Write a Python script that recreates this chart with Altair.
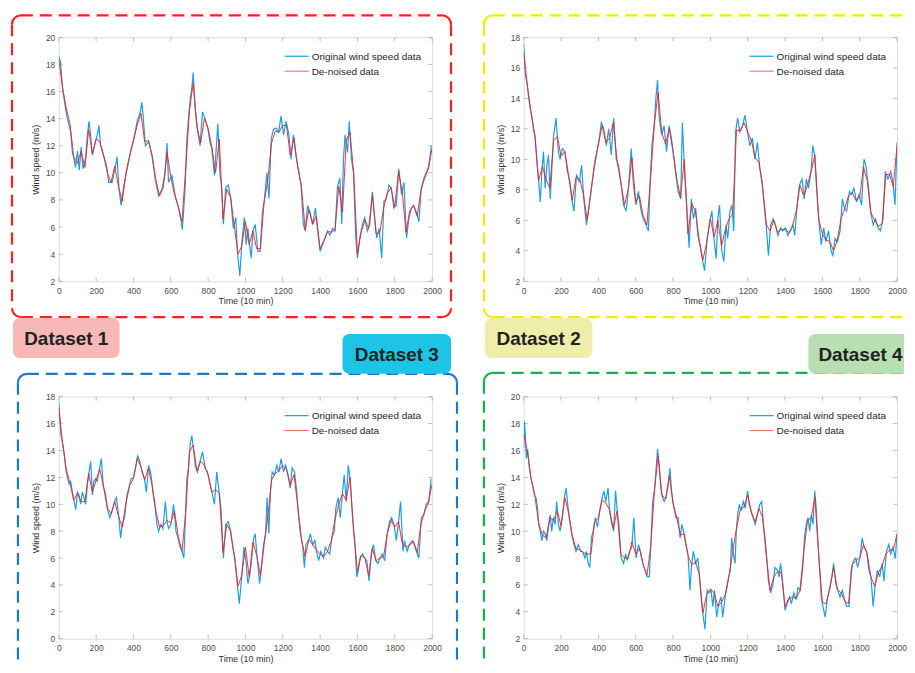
import altair as alt
import pandas as pd

FONT = "Liberation Sans"
X_TICKS = list(range(0, 2001, 200))
T_DEN = list(range(0, 2001, 20))

# ---------------- Dataset 1 ----------------
D1_ORIG = [(0,18.6),(9,18.2),(20,16.3),(28,15.5),(37,14.7),(46,14.0),(55,13.5),(64,13.0),(73,11.5),(82,11.0),
(90,10.4),(100,11.6),(110,10.2),(120,11.9),(130,10.3),(145,11.2),(153,12.8),(162,13.8),(170,12.9),(180,11.3),
(193,12.1),(206,12.8),(215,13.5),(224,12.0),(242,11.2),(255,10.6),(268,9.3),(286,9.3),(304,10.5),(312,11.2),
(322,8.9),(334,7.6),(348,9.0),(366,10.3),(384,11.5),(402,12.5),(420,13.8),(437,14.5),(445,15.2),(450,14.5),
(464,12.0),(482,12.3),(500,11.3),(517,9.5),(535,8.3),(553,8.8),(570,10.0),(580,12.2),(588,9.3),(606,9.8),
(624,8.3),(642,7.4),(656,6.4),(662,5.8),(668,7.0),(677,9.0),(686,12.5),(695,14.0),(704,15.4),(716,16.7),
(720,17.4),(731,14.7),(745,13.0),(757,12.0),(770,14.5),(784,14.0),(798,13.3),(811,12.2),(820,11.8),(834,9.8),
(852,13.6),(864,9.8),(873,8.9),(882,6.2),(894,8.9),(908,9.1),(922,8.1),(935,5.9),(948,6.7),(958,4.0),
(970,2.4),(980,4.7),(994,6.7),(1004,4.7),(1013,5.9),(1022,4.7),(1031,3.7),(1040,5.7),(1052,6.2),(1067,4.2),
(1079,4.2),(1090,7.0),(1102,8.1),(1115,10.0),(1126,8.1),(1138,12.5),(1150,13.2),(1164,13.3),(1178,13.0),(1191,14.2),
(1204,12.8),(1218,13.8),(1233,12.8),(1244,11.0),(1257,12.8),(1271,11.2),(1284,10.3),(1298,9.1),(1310,6.2),(1321,5.7),
(1333,7.6),(1346,7.1),(1360,6.2),(1375,7.4),(1387,5.7),(1400,4.2),(1413,4.7),(1427,5.2),(1440,5.7),(1452,5.4),
(1467,5.9),(1480,5.7),(1493,9.0),(1506,9.6),(1516,6.2),(1525,11.0),(1534,12.8),(1547,11.5),(1556,13.8),(1568,11.0),
(1579,10.0),(1591,5.2),(1600,3.7),(1612,5.2),(1627,6.2),(1639,6.7),(1653,5.7),(1666,6.2),(1680,8.6),(1692,6.7),
(1703,5.2),(1716,5.9),(1730,3.7),(1742,7.9),(1755,8.1),(1769,9.1),(1781,8.9),(1795,7.4),(1808,7.6),(1822,10.3),
(1836,8.4),(1849,9.3),(1863,5.2),(1876,6.7),(1890,7.4),(1902,7.6),(1915,7.1),(1929,6.4),(1942,8.9),(1956,9.6),
(1968,10.0),(1982,10.5),(1996,12.0)]
D1_DEN = [18.4, 16.3, 14.8, 13.6, 11.2, 10.7, 11.6, 10.4, 13.2, 11.4,
          12.5, 12.3, 11.3, 10.0, 9.3, 10.5, 9.0, 7.9, 10.0, 11.3,
          12.4, 13.5, 14.4, 12.3, 12.4, 11.2, 9.5, 8.3, 8.9, 11.5,
          9.7, 8.4, 7.5, 6.4, 10.3, 14.6, 16.6, 13.4, 12.2, 14.0,
          13.3, 11.9, 10.0, 12.5, 6.6, 8.8, 8.2, 6.1, 4.0, 4.6,
          6.4, 4.7, 5.7, 4.4, 4.4, 7.8, 9.5, 12.2, 13.1, 13.0,
          13.5, 13.5, 11.3, 12.6, 10.4, 9.0, 5.8, 7.3, 6.2, 6.8,
          4.4, 5.0, 5.7, 5.6, 5.8, 9.0, 7.1, 12.4, 13.0, 10.0,
          4.0, 5.6, 6.5, 5.9, 8.4, 5.5, 5.6, 7.4, 8.5, 8.9,
          7.5, 10.1, 8.6, 5.6, 7.2, 7.6, 6.8, 8.7, 9.6, 10.3,
          11.8]

# ---------------- Dataset 2 ----------------
D2_ORIG = [(0,17.6),(9,15.5),(18,15.0),(27,14.0),(35,13.3),(44,12.8),(53,12.0),(62,11.4),(71,9.8),(80,8.5),
(89,7.2),(97,9.2),(106,10.5),(115,8.1),(124,9.6),(133,10.3),(142,7.4),(150,9.2),(159,11.4),(173,12.7),
(186,10.5),(195,10.0),(207,10.7),(221,10.5),(234,9.2),(248,8.5),(257,7.4),(269,6.6),(283,9.0),(298,8.5),
(310,9.6),(322,7.4),(336,5.7),(349,6.8),(363,8.1),(375,9.2),(390,10.3),(402,11.1),(416,12.4),(429,12.0),
(443,10.9),(455,12.0),(469,10.3),(482,12.7),(496,10.0),(508,9.6),(523,8.3),(535,7.0),(549,6.6),(561,8.1),
(576,10.7),(588,8.3),(602,7.0),(614,7.9),(629,6.6),(641,6.1),(655,5.7),(668,5.3),(678,8.7),(687,10.9),
(700,12.4),(708,14.0),(717,15.2),(726,12.7),(739,11.6),(752,12.2),(765,10.5),(779,12.2),(791,11.4),(806,10.0),
(815,9.0),(827,7.9),(841,7.4),(850,12.4),(862,9.2),(873,7.0),(886,4.2),(898,7.4),(909,6.1),(921,6.8),
(933,5.0),(944,4.4),(956,3.5),(969,2.7),(983,4.8),(996,5.9),(1008,6.6),(1019,4.8),(1031,3.5),(1040,6.1),
(1049,7.0),(1061,4.0),(1072,3.3),(1084,5.7),(1093,4.8),(1105,6.6),(1116,7.0),(1125,5.3),(1135,11.8),(1146,12.7),
(1158,11.8),(1173,12.2),(1185,12.9),(1199,11.8),(1211,10.9),(1225,11.4),(1238,10.0),(1252,11.1),(1265,9.4),(1275,8.7),
(1288,7.0),(1300,5.5),(1311,3.7),(1323,5.7),(1336,6.1),(1349,5.7),(1362,5.0),(1376,5.5),(1388,5.3),(1403,5.5),
(1415,5.0),(1429,5.3),(1442,5.7),(1452,5.0),(1465,7.0),(1477,8.3),(1491,8.7),(1503,7.4),(1514,8.7),(1526,8.1),
(1539,9.2),(1549,10.9),(1558,10.3),(1571,7.7),(1583,5.7),(1594,4.4),(1607,5.5),(1619,4.6),(1633,5.3),(1646,4.0),
(1656,3.7),(1668,4.8),(1681,4.6),(1695,5.3),(1707,7.4),(1718,6.8),(1730,6.6),(1745,7.9),(1757,7.7),(1769,8.1),
(1783,7.2),(1796,7.7),(1810,7.0),(1823,10.0),(1833,9.6),(1846,8.3),(1858,6.6),(1872,5.7),(1884,6.1),(1899,5.5),
(1911,5.3),(1925,6.1),(1937,9.2),(1951,8.7),(1966,9.2),(1978,8.5),(1989,7.0),(2000,11.1)]
D2_DEN = [17.0, 14.8, 13.0, 11.5, 8.6, 9.5, 8.7, 8.1, 11.2, 11.5,
          10.2, 10.5, 9.0, 7.3, 8.8, 8.7, 7.7, 6.0, 7.9, 9.8,
          11.0, 12.2, 11.1, 11.4, 12.4, 9.9, 8.5, 7.0, 8.0, 10.1,
          7.2, 7.6, 6.3, 5.7, 8.8, 12.3, 14.4, 11.7, 11.0, 12.0,
          10.5, 8.7, 7.5, 10.0, 5.1, 7.1, 6.6, 4.7, 3.4, 4.5,
          6.1, 4.9, 6.0, 4.3, 5.4, 6.1, 6.4, 11.9, 11.9, 12.4,
          11.8, 11.2, 10.1, 9.8, 8.2, 5.7, 5.3, 6.0, 5.2, 5.4,
          5.4, 5.2, 5.6, 6.6, 8.3, 7.6, 8.3, 9.2, 10.3, 6.1,
          5.1, 4.7, 4.6, 4.0, 4.7, 6.1, 6.8, 7.6, 7.8, 7.3,
          7.5, 9.5, 8.6, 6.5, 6.0, 5.6, 5.8, 9.0, 9.0, 8.2,
          10.9]

# ---------------- Dataset 3 ----------------
D3_ORIG = [(0,17.6),(11,15.2),(20,14.6),(28,13.9),(37,12.7),(46,12.0),(55,11.5),(64,11.7),(73,10.9),(82,10.2),
(91,9.6),(100,10.9),(108,10.7),(117,10.0),(126,10.9),(135,10.5),(144,10.0),(153,11.4),(162,12.4),(171,13.2),
(180,10.7),(188,11.7),(197,11.9),(206,11.7),(219,12.7),(228,13.4),(238,11.4),(251,10.7),(263,9.5),(274,9.0),
(286,9.5),(299,10.2),(309,10.5),(322,9.0),(331,7.5),(340,8.5),(352,9.0),(366,10.7),(375,11.2),(388,11.9),
(398,11.9),(411,12.7),(423,13.6),(434,13.2),(446,12.4),(459,11.9),(469,10.9),(482,12.9),(494,12.2),(505,10.9),
(517,9.7),(526,8.5),(535,8.0),(548,8.5),(558,8.2),(571,10.2),(580,8.7),(588,8.2),(601,8.5),(615,10.0),
(628,8.0),(638,7.5),(651,6.8),(660,6.5),(670,6.0),(677,8.5),(686,11.9),(695,12.7),(704,14.5),(713,15.1),
(722,14.1),(731,12.9),(743,12.4),(757,13.2),(770,13.9),(784,12.7),(796,12.4),(807,11.7),(820,10.9),(834,10.0),
(846,12.4),(859,10.9),(869,9.7),(882,6.0),(894,8.5),(908,8.7),(921,8.0),(932,6.8),(944,6.0),(956,4.1),
(967,2.6),(980,4.6),(992,6.8),(1004,5.6),(1013,4.1),(1022,4.6),(1031,5.6),(1044,7.5),(1052,7.8),(1063,6.0),
(1076,4.1),(1084,5.1),(1097,7.0),(1108,7.8),(1116,10.5),(1125,7.8),(1134,10.9),(1143,12.4),(1156,12.2),(1168,12.9),
(1179,12.4),(1191,13.4),(1204,12.4),(1215,12.9),(1228,12.2),(1240,11.2),(1250,12.7),(1263,12.4),(1275,10.9),(1284,9.2),
(1293,8.0),(1307,6.8),(1316,5.3),(1324,7.0),(1337,7.3),(1348,7.8),(1360,7.0),(1372,7.3),(1381,6.5),(1392,5.8),
(1404,6.5),(1417,6.0),(1428,6.8),(1440,6.5),(1452,6.3),(1463,7.5),(1476,8.0),(1484,9.7),(1497,10.5),(1508,9.0),
(1520,10.9),(1529,12.2),(1540,10.2),(1551,12.9),(1561,11.9),(1573,9.2),(1588,6.8),(1596,4.6),(1605,5.1),(1614,6.0),
(1627,6.3),(1639,6.0),(1650,5.8),(1662,4.3),(1675,6.5),(1686,7.0),(1698,5.8),(1710,5.6),(1721,6.0),(1733,6.3),
(1746,5.8),(1759,7.8),(1772,8.7),(1783,9.0),(1796,8.5),(1808,7.3),(1819,8.5),(1831,10.2),(1844,6.5),(1852,7.3),
(1866,6.5),(1879,7.0),(1893,7.3),(1906,7.0),(1916,6.5),(1929,6.0),(1942,9.0),(1956,9.2),(1968,10.0),(1982,10.2),
(1995,11.9)]
D3_DEN = [17.2, 14.6, 12.6, 11.6, 10.3, 10.8, 10.2, 10.2, 12.3, 10.9,
          11.8, 12.6, 11.3, 9.7, 9.3, 10.2, 9.1, 8.3, 10.1, 11.4,
          11.9, 13.4, 12.8, 11.8, 12.7, 11.4, 9.5, 8.3, 8.4, 8.8,
          8.6, 9.5, 7.6, 6.5, 9.4, 13.9, 14.4, 12.5, 13.2, 12.9,
          12.2, 10.9, 11.1, 10.8, 6.4, 8.5, 8.0, 6.2, 3.9, 4.7,
          6.8, 4.6, 7.2, 6.2, 4.7, 7.0, 9.1, 11.8, 12.3, 12.5,
          12.9, 12.6, 11.4, 12.2, 9.9, 7.4, 6.1, 7.4, 7.0, 6.6,
          6.3, 6.1, 6.5, 7.3, 8.9, 10.0, 10.8, 10.3, 12.0, 7.9,
          5.0, 6.2, 6.0, 4.7, 6.7, 5.8, 6.0, 6.1, 7.8, 8.8,
          8.3, 8.7, 7.1, 6.8, 7.0, 7.2, 6.4, 8.5, 9.5, 10.1,
          11.5]

# ---------------- Dataset 4 ----------------
D4_ORIG = [(0,16.2),(4,18.2),(9,17.1),(14,15.4),(21,16.1),(30,14.7),(39,13.9),(48,13.4),(57,12.7),(66,12.5),
(74,11.7),(80,10.5),(89,10.0),(97,9.3),(106,10.0),(115,9.8),(124,9.3),(133,10.3),(142,11.2),(150,10.0),
(159,11.0),(168,10.5),(177,12.2),(186,10.5),(195,10.0),(207,11.0),(218,12.5),(227,13.2),(236,12.0),(244,11.0),
(257,9.8),(269,9.0),(280,8.5),(292,9.0),(305,8.5),(315,8.5),(328,8.0),(336,8.5),(345,7.6),(354,7.3),
(363,9.5),(372,10.0),(384,11.0),(395,10.3),(407,11.5),(420,12.5),(430,13.0),(439,12.2),(452,13.2),(460,11.5),
(469,10.7),(482,10.0),(492,13.0),(501,11.5),(510,10.5),(522,8.0),(535,7.6),(546,8.3),(554,7.8),(567,8.5),
(579,8.8),(590,11.0),(602,8.0),(615,9.0),(625,8.5),(638,7.6),(650,7.1),(661,6.6),(673,6.6),(682,9.3),
(691,12.2),(700,13.0),(708,14.4),(717,16.1),(726,14.9),(735,13.2),(744,12.5),(753,12.2),(762,12.5),(774,13.4),
(783,14.7),(792,13.0),(801,12.0),(815,11.0),(827,11.0),(838,9.5),(847,10.5),(856,10.0),(868,9.0),(880,8.3),
(891,5.6),(900,7.6),(909,8.5),(921,7.6),(933,8.0),(944,6.3),(953,4.6),(962,3.6),(971,2.7),(983,5.6),
(992,5.4),(1004,5.6),(1013,4.4),(1022,5.6),(1034,3.6),(1045,4.6),(1057,5.1),(1066,3.6),(1079,5.1),(1089,5.8),
(1098,6.6),(1107,7.1),(1114,9.5),(1123,8.3),(1132,7.6),(1139,10.0),(1146,11.2),(1155,12.0),(1164,11.5),(1176,12.2),
(1187,11.7),(1199,13.0),(1208,12.0),(1217,11.5),(1229,11.0),(1240,10.5),(1252,11.2),(1265,12.0),(1275,12.2),(1284,10.5),
(1293,9.5),(1302,8.0),(1311,6.3),(1323,5.4),(1336,6.1),(1346,7.3),(1359,7.1),(1368,6.6),(1376,7.6),(1388,6.1),
(1400,4.1),(1411,4.6),(1424,5.1),(1434,4.6),(1447,5.4),(1459,4.9),(1470,5.8),(1482,5.6),(1495,7.3),(1505,9.7),
(1514,10.5),(1523,11.0),(1532,10.0),(1541,11.2),(1550,10.5),(1559,13.0),(1567,11.7),(1576,9.3),(1585,7.3),(1594,5.1),
(1603,4.4),(1615,3.6),(1628,5.1),(1638,5.6),(1651,6.6),(1660,7.6),(1672,6.1),(1682,5.6),(1695,5.1),(1707,5.6),
(1718,4.9),(1730,4.4),(1743,4.4),(1754,7.1),(1766,7.8),(1779,8.0),(1789,7.3),(1801,8.0),(1813,9.5),(1824,8.8),
(1837,8.5),(1849,7.1),(1860,6.6),(1872,4.4),(1884,6.1),(1895,7.1),(1907,6.6),(1920,7.6),(1930,6.3),(1943,8.5),
(1956,9.0),(1966,8.3),(1978,8.8),(1991,8.0),(2000,9.8)]
D4_DEN = [17.2, 15.9, 13.9, 12.6, 10.6, 9.7, 9.5, 11.0, 10.8, 11.5,
          10.4, 12.5, 11.4, 9.7, 8.7, 8.6, 8.4, 8.3, 8.3, 10.7,
          11.0, 12.3, 12.1, 11.6, 10.2, 11.5, 8.3, 8.0, 8.0, 9.2,
          8.3, 8.7, 7.5, 6.7, 8.8, 12.9, 15.6, 12.7, 12.4, 14.1,
          12.1, 11.0, 9.7, 9.8, 8.2, 7.5, 7.7, 6.8, 3.9, 5.3,
          5.7, 5.4, 4.4, 4.7, 5.3, 6.7, 8.5, 10.2, 11.6, 11.8,
          12.7, 11.4, 10.7, 11.7, 11.0, 8.1, 5.6, 6.6, 7.0, 6.9,
          4.4, 5.0, 5.1, 5.0, 5.6, 8.4, 10.8, 11.0, 12.5, 8.2,
          4.7, 4.6, 5.8, 7.3, 5.7, 5.4, 4.8, 4.6, 7.5, 7.8,
          8.0, 9.0, 8.3, 6.6, 5.9, 6.9, 7.4, 8.3, 8.6, 8.6,
          9.8]

SERIES_NAMES = ["Original wind speed data", "De-noised data"]
DATASET_LABELS = ["Dataset 1", "Dataset 2", "Dataset 3", "Dataset 4"]
Y_RANGES = [(2, 20), (2, 18), (0, 18), (2, 20)]

BLUE = "#1b9fe2"
RED = "#ff1a1a"
AXC = "#8a8a8a"
W = 375
H_TOP, H_BOT = 245, 243
ONE = pd.DataFrame({"k": [0]})
PI = 3.141592653589793


def dashed_box(color, x0, x1, y0, y1, right=True, bottom=True, r=9):
    layers = []
    rk = dict(color=color, strokeWidth=2.2, strokeDash=[12, 7], strokeCap="butt")
    xe = x1 - r if right else x1
    ye = y1 - r if bottom else y1
    layers.append(alt.Chart(ONE).mark_rule(**rk).encode(
        x=alt.value(x0 + r), x2=alt.value(xe), y=alt.value(y0)))
    layers.append(alt.Chart(ONE).mark_rule(**rk).encode(
        x=alt.value(x0), y=alt.value(y0 + r), y2=alt.value(ye)))
    if right:
        layers.append(alt.Chart(ONE).mark_rule(**rk).encode(
            x=alt.value(x1), y=alt.value(y0 + r), y2=alt.value(ye)))
    if bottom:
        layers.append(alt.Chart(ONE).mark_rule(**rk).encode(
            x=alt.value(x0 + r), x2=alt.value(xe), y=alt.value(y1)))
    corners = [(x0 + r, y0 + r, 1.5 * PI, 2 * PI)]
    if right:
        corners.append((x1 - r, y0 + r, 0.0, 0.5 * PI))
    if right and bottom:
        corners.append((x1 - r, y1 - r, 0.5 * PI, PI))
    if bottom:
        corners.append((x0 + r, y1 - r, PI, 1.5 * PI))
    for cx, cy, a0, a1 in corners:
        layers.append(alt.Chart(ONE).mark_arc(
            color=color, radius=r + 1.1, radius2=r - 1.1, theta=a0, theta2=a1
        ).encode(x=alt.value(cx), y=alt.value(cy)))
    return layers


def tag(text, fill, x0, x1, y0, y1, tx, align="center", full=True):
    if full:
        rect = alt.Chart(ONE).mark_rect(color=fill, cornerRadius=7)
    else:
        rect = alt.Chart(ONE).mark_rect(color=fill, cornerRadiusTopLeft=7,
                                        cornerRadiusBottomLeft=7)
    rect = rect.encode(x=alt.value(x0), x2=alt.value(x1), y=alt.value(y0), y2=alt.value(y1))
    txt = alt.Chart(ONE).mark_text(
        text=text, font=FONT, fontSize=19, fontWeight="bold", color="#222222",
        align=align, baseline="middle"
    ).encode(x=alt.value(tx), y=alt.value((y0 + y1) / 2 + 1))
    return [rect, txt]


def panel(orig, den, yr, deco, H, lpad, tpad):
    ymin, ymax = yr
    yt = list(range(ymin, ymax + 1, 2))
    xs = alt.Scale(domain=[0, 2000], nice=False, zero=False)
    ys = alt.Scale(domain=[ymin, ymax], nice=False, zero=False)
    common = dict(ticks=False, domain=False, grid=False, labelFont=FONT,
                  labelFontSize=8.5, labelColor="#4d4d4d", titleFont=FONT,
                  titleFontSize=9, titleFontWeight="normal", titleColor="#333333")
    xax = alt.Axis(values=X_TICKS, format="d", title="Time (10 min)", labelFlush=False,
                   labelOverlap=False, labelPadding=lpad, titlePadding=tpad, **common)
    yax = alt.Axis(values=yt, format="d", title="Wind speed (m/s)", labelPadding=4,
                   titlePadding=5, **common)
    X = alt.X("t:Q", scale=xs, axis=xax)
    Y = alt.Y("v:Q", scale=ys, axis=yax)

    df_o = pd.DataFrame(orig, columns=["t", "v"])
    df_d = pd.DataFrame({"t": T_DEN, "v": den})
    line_o = alt.Chart(df_o).mark_line(color=BLUE, strokeWidth=1.2, clip=True).encode(x=X, y=Y)
    line_d = alt.Chart(df_d).mark_line(color=RED, strokeWidth=0.9, clip=True).encode(x=X, y=Y)

    xt = pd.DataFrame({"t": X_TICKS})
    ytd = pd.DataFrame({"v": yt})
    tk = dict(color=AXC, thickness=0.8, size=4)
    tb = alt.Chart(xt).mark_tick(**tk).encode(x=X, y=alt.value(H - 2))
    tt = alt.Chart(xt).mark_tick(**tk).encode(x=X, y=alt.value(2))
    tl = alt.Chart(ytd).mark_tick(**tk).encode(y=Y, x=alt.value(2))
    tr = alt.Chart(ytd).mark_tick(**tk).encode(y=Y, x=alt.value(W - 2))

    leg = [
        alt.Chart(ONE).mark_rule(color=BLUE, strokeWidth=1.2).encode(
            x=alt.value(227), x2=alt.value(251), y=alt.value(19)),
        alt.Chart(ONE).mark_text(text=SERIES_NAMES[0], font=FONT, fontSize=10,
                                 color="#262626", align="left", baseline="middle"
                                 ).encode(x=alt.value(254), y=alt.value(19.5)),
        alt.Chart(ONE).mark_rule(color=RED, strokeWidth=1.0, opacity=0.7).encode(
            x=alt.value(227), x2=alt.value(251), y=alt.value(34)),
        alt.Chart(ONE).mark_text(text=SERIES_NAMES[1], font=FONT, fontSize=10,
                                 color="#262626", align="left", baseline="middle"
                                 ).encode(x=alt.value(254), y=alt.value(34.5)),
    ]
    return alt.layer(line_o, line_d, tb, tt, tl, tr, *leg, *deco).properties(width=W, height=H)


deco1 = dashed_box("#ff2020", -47, 394, -22, 281) + \
    tag(DATASET_LABELS[0], "#f9b8b8", -46, 61, 282, 322, 7.5)
deco2 = dashed_box("#f0ec00", -40, 382, -22, 281, right=False) + \
    tag(DATASET_LABELS[1], "#eeeeaa", -39, 69, 282, 322, 15)
deco3 = dashed_box("#1f78c4", -41, 400, -23, 268, bottom=False) + \
    tag(DATASET_LABELS[2], "#1dc4e6", 285, 394, -63, -23, 339.5)
deco4 = dashed_box("#16b04c", -40, 382, -24, 268, right=False, bottom=False) + \
    tag(DATASET_LABELS[3], "#b7dfb1", 286, 382, -63, -23, 296, align="left", full=False)

p1 = panel(D1_ORIG, D1_DEN, Y_RANGES[0], deco1, H_TOP, 5, 2)
p2 = panel(D2_ORIG, D2_DEN, Y_RANGES[1], deco2, H_TOP, 5, 2)
p3 = panel(D3_ORIG, D3_DEN, Y_RANGES[2], deco3, H_BOT, 5, 2)
p4 = panel(D4_ORIG, D4_DEN, Y_RANGES[3], deco4, H_BOT, 5, 2)

chart = alt.concat(
    p1, p2, p3, p4, columns=2, spacing={"row": 116, "column": 92}, bounds="flush"
).properties(
    padding={"left": 2, "top": 4, "right": 0, "bottom": 0}
).configure_view(stroke="#a0a0a0", strokeWidth=1).configure(background="white")

chart.save("out.html", embed_options={"renderer": "svg", "actions": False})
